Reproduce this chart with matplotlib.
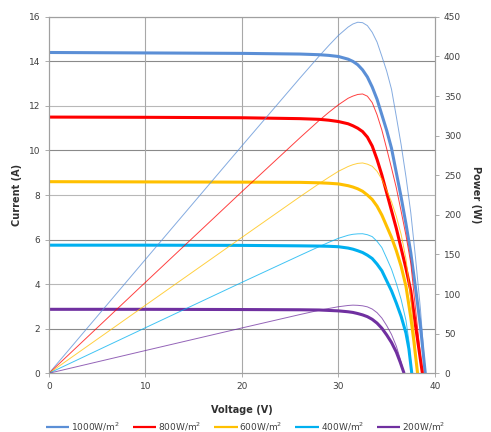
import numpy as np
import matplotlib.pyplot as plt

# I-V curves (voltage in V, current in A)
v_1000 = [0, 10, 20, 26, 28, 29, 30, 31, 31.5, 32, 32.5, 33, 33.5, 34, 34.5, 35, 35.5, 36, 36.5, 37, 37.5, 38, 38.5, 39.0]
i_1000 = [14.4, 14.38, 14.36, 14.33, 14.3, 14.27, 14.22, 14.1, 14.0, 13.85, 13.62, 13.3, 12.85, 12.3, 11.6, 10.9, 10.1, 9.0, 7.9, 6.7, 5.4, 3.8, 2.1, 0]

v_800 = [0, 10, 20, 26, 28, 29, 30, 31, 31.5, 32, 32.5, 33, 33.5, 34, 34.5, 35, 35.5, 36, 36.5, 37, 37.5, 38, 38.4, 38.7]
i_800 = [11.5, 11.49, 11.47, 11.43, 11.4, 11.36, 11.3, 11.2, 11.11, 11.0, 10.85, 10.6, 10.2, 9.6, 8.9, 8.1, 7.3, 6.5, 5.6, 4.7, 3.7, 2.1, 0.9, 0]

v_600 = [0, 10, 20, 26, 28, 29, 30, 31, 31.5, 32, 32.5, 33, 33.5, 34, 34.5, 35, 35.5, 36, 36.5, 37, 37.5, 37.8, 38.2]
i_600 = [8.6, 8.59, 8.58, 8.57, 8.55, 8.53, 8.5, 8.42, 8.36, 8.28, 8.17, 8.0, 7.8, 7.5, 7.1, 6.6, 6.1, 5.5, 4.8, 3.9, 2.5, 1.5, 0]

v_400 = [0, 10, 20, 26, 28, 29, 30, 31, 31.5, 32, 32.5, 33, 33.5, 34, 34.5, 35, 35.5, 36, 36.5, 37, 37.3, 37.6]
i_400 = [5.75, 5.75, 5.74, 5.72, 5.71, 5.7, 5.68, 5.62, 5.57, 5.5, 5.42, 5.3, 5.15, 4.9, 4.6, 4.15, 3.7, 3.15, 2.55, 1.8, 1.1, 0]

v_200 = [0, 10, 20, 26, 28, 29, 30, 31, 31.5, 32, 32.5, 33, 33.5, 34, 34.5, 35, 35.5, 36, 36.4, 36.8]
i_200 = [2.87, 2.87, 2.86, 2.85, 2.84, 2.82, 2.8, 2.76, 2.73, 2.68, 2.62, 2.54, 2.42, 2.25, 2.02, 1.72, 1.38, 0.95, 0.5, 0]

labels = ["1000W/m$^2$", "800W/m$^2$", "600W/m$^2$", "400W/m$^2$", "200W/m$^2$"]
colors = ["#5b8fd6", "#ff0000", "#ffc000", "#00b0f0", "#7030a0"]
volts = [v_1000, v_800, v_600, v_400, v_200]
amps = [i_1000, i_800, i_600, i_400, i_200]

fig = plt.figure(figsize=(4.91, 4.32), dpi=100)
ax = fig.add_axes([0.0998, 0.136, 0.786, 0.825])
ax2 = ax.twinx()

tick_col = "#404040"

# gridlines (alternating shade like the original)
for yv in range(2, 17, 2):
    c = "#8a8a8a" if yv % 4 == 2 else "#b8b8b8"
    ax.axhline(yv, color=c, lw=0.8, zorder=0)
for xv in [10, 20, 30]:
    ax.axvline(xv, color="#a8a8a8", lw=0.8, zorder=0)

for v, i, c, lab in zip(volts, amps, colors, labels):
    ax.plot(v, i, color=c, lw=2.2, label=lab, solid_capstyle="butt")
    p = np.array(v) * np.array(i)
    ax2.plot(v, p, color=c, lw=0.7, alpha=0.75)

ax.set_xlim(0, 40)
ax.set_ylim(0, 16)
ax2.set_ylim(0, 450)
ax.set_xticks([0, 10, 20, 30, 40])
ax.set_yticks(range(0, 17, 2))
ax2.set_yticks(range(0, 451, 50))

for a in (ax, ax2):
    a.tick_params(labelsize=6.5, colors=tick_col, length=3, width=0.6)
    for s in a.spines.values():
        s.set_color("#a0a0a0")
        s.set_linewidth(0.8)
ax.tick_params(axis="both", color="#a0a0a0")
ax2.tick_params(axis="y", color="#a0a0a0")

ax.set_xlabel("Voltage (V)", fontsize=7, fontweight="bold", color="#303030", labelpad=10)
ax.set_ylabel("Current (A)", fontsize=7, fontweight="bold", color="#303030", labelpad=5)
ax2.set_ylabel("Power (W)", fontsize=7, fontweight="bold", color="#303030", rotation=270, labelpad=14)

h, l = ax.get_legend_handles_labels()
fig.legend(h, l, loc="center", bbox_to_anchor=(0.5, 0.012), ncol=5, frameon=False,
           fontsize=6.5, handlelength=2.6, handletextpad=0.2, columnspacing=1.4,
           labelcolor="#404040")
for line in fig.legends[0].get_lines():
    line.set_linewidth(1.6)

fig.savefig("out.png", dpi=100)
